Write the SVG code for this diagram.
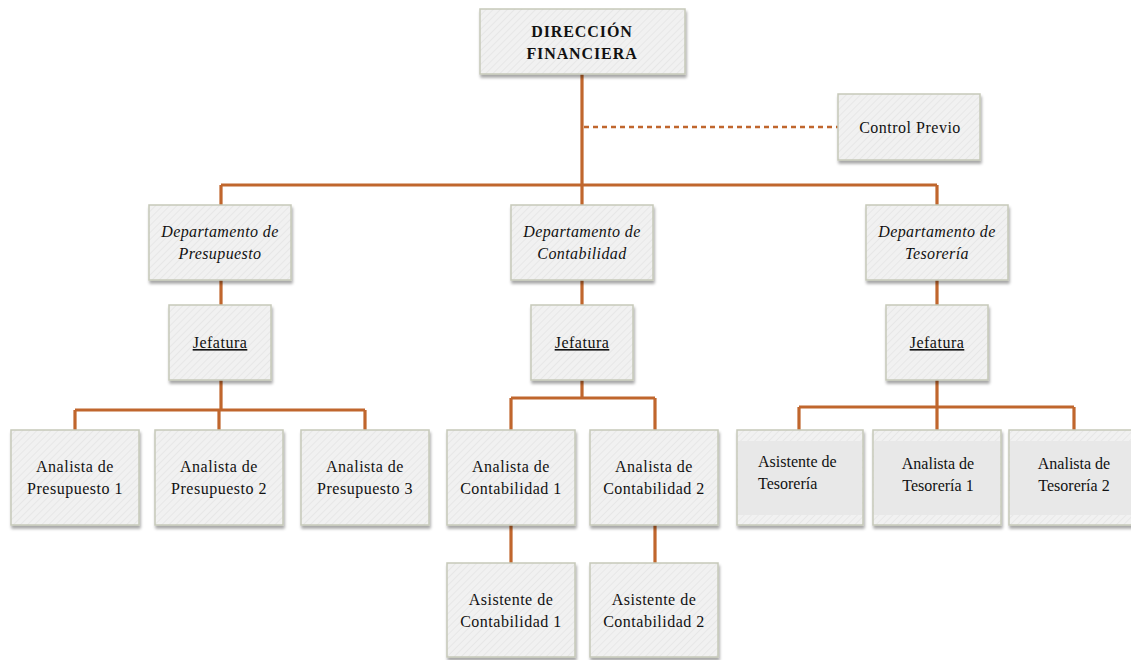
<svg xmlns="http://www.w3.org/2000/svg" width="1131" height="660" viewBox="0 0 1131 660">
  <defs>
    <filter id="shadow" x="-10%" y="-10%" width="125%" height="130%">
      <feGaussianBlur in="SourceAlpha" stdDeviation="1.6"/>
      <feOffset dx="1" dy="2.5" result="b"/>
      <feComponentTransfer><feFuncA type="linear" slope="0.35"/></feComponentTransfer>
      <feMerge><feMergeNode/><feMergeNode in="SourceGraphic"/></feMerge>
    </filter>
    <pattern id="hatch" width="5" height="5" patternUnits="userSpaceOnUse" patternTransform="rotate(45)">
      <rect width="5" height="5" fill="#f1f1f1"/>
      <line x1="0" y1="0" x2="0" y2="5" stroke="#e4e4e4" stroke-width="1.5"/>
    </pattern>
  </defs>
  <style>
    .box { fill: url(#hatch); stroke: #c6c9b9; stroke-width: 1.5; filter: url(#shadow); }
    .inner { fill: #e8e8e8; }
    .link { fill: none; stroke: #c0662d; stroke-width: 3.2; }
    .dash { fill: none; stroke: #c0662d; stroke-width: 2.5; stroke-dasharray: 5 4; }
    text { font-family: "Liberation Serif", "Times New Roman", serif; font-size: 16px; fill: #111; text-anchor: middle; letter-spacing: 0.5px; }
    .title { font-weight: bold; letter-spacing: 0.9px; }
    .dept { font-style: italic; letter-spacing: 0.4px; }
    .jef { text-decoration: underline; }
    .left { text-anchor: start; letter-spacing: 0; }
  </style>
  <rect width="1131" height="660" fill="#ffffff"/>

  <!-- connectors -->
  <g id="connectors">
    <path class="link" d="M582 74 V185 M221 185 H937 M221 185 V205 M582 185 V205 M937 185 V205"/>
    <path class="dash" d="M584 127 H838"/>
    <path class="link" d="M221 280 V305 M582 280 V305 M937 280 V305"/>
    <path class="link" d="M221 380 V410 M75 410 H365 M75 410 V430 M219 410 V430 M365 410 V430"/>
    <path class="link" d="M582 380 V398 M511 398 H655 M511 398 V430 M655 398 V430"/>
    <path class="link" d="M511 525 V563 M655 525 V563"/>
    <path class="link" d="M937 380 V407 M799 407 H1074 M799 407 V430 M937 407 V430 M1074 407 V430"/>
  </g>

  <g id="direccion">
    <rect class="box" x="480" y="9" width="205" height="65"/>
    <text class="title" x="582" y="37">DIRECCIÓN</text>
    <text class="title" x="582" y="59">FINANCIERA</text>
  </g>

  <g id="control-previo">
    <rect class="box" x="838" y="94" width="142" height="66"/>
    <text x="910" y="133">Control Previo</text>
  </g>

  <g id="dep-presupuesto">
    <rect class="box" x="149" y="205" width="142" height="75"/>
    <text class="dept" x="220" y="237">Departamento de</text>
    <text class="dept" x="220" y="259">Presupuesto</text>
  </g>
  <g id="dep-contabilidad">
    <rect class="box" x="511" y="205" width="142" height="75"/>
    <text class="dept" x="582" y="237">Departamento de</text>
    <text class="dept" x="582" y="259">Contabilidad</text>
  </g>
  <g id="dep-tesoreria">
    <rect class="box" x="866" y="205" width="142" height="75"/>
    <text class="dept" x="937" y="237">Departamento de</text>
    <text class="dept" x="937" y="259">Tesorería</text>
  </g>

  <g id="jef-presupuesto">
    <rect class="box" x="169" y="305" width="102" height="75"/>
    <text class="jef" x="220" y="348">Jefatura</text>
  </g>
  <g id="jef-contabilidad">
    <rect class="box" x="531" y="305" width="102" height="75"/>
    <text class="jef" x="582" y="348">Jefatura</text>
  </g>
  <g id="jef-tesoreria">
    <rect class="box" x="886" y="305" width="102" height="75"/>
    <text class="jef" x="937" y="348">Jefatura</text>
  </g>

  <g id="analista-presupuesto-1">
    <rect class="box" x="11" y="430" width="128" height="95"/>
    <text x="75" y="472">Analista de</text>
    <text x="75" y="494">Presupuesto 1</text>
  </g>
  <g id="analista-presupuesto-2">
    <rect class="box" x="155" y="430" width="128" height="95"/>
    <text x="219" y="472">Analista de</text>
    <text x="219" y="494">Presupuesto 2</text>
  </g>
  <g id="analista-presupuesto-3">
    <rect class="box" x="301" y="430" width="128" height="95"/>
    <text x="365" y="472">Analista de</text>
    <text x="365" y="494">Presupuesto 3</text>
  </g>

  <g id="analista-contabilidad-1">
    <rect class="box" x="447" y="430" width="128" height="95"/>
    <text x="511" y="472">Analista de</text>
    <text x="511" y="494">Contabilidad 1</text>
  </g>
  <g id="analista-contabilidad-2">
    <rect class="box" x="590" y="430" width="128" height="95"/>
    <text x="654" y="472">Analista de</text>
    <text x="654" y="494">Contabilidad 2</text>
  </g>
  <g id="asistente-contabilidad-1">
    <rect class="box" x="447" y="563" width="128" height="94"/>
    <text x="511" y="605">Asistente de</text>
    <text x="511" y="627">Contabilidad 1</text>
  </g>
  <g id="asistente-contabilidad-2">
    <rect class="box" x="590" y="563" width="128" height="94"/>
    <text x="654" y="605">Asistente de</text>
    <text x="654" y="627">Contabilidad 2</text>
  </g>

  <g id="asistente-tesoreria">
    <rect class="box" x="737" y="430" width="126" height="95"/>
    <rect class="inner" x="738" y="441" width="124" height="74"/>
    <text class="left" x="758" y="467">Asistente de</text>
    <text class="left" x="758" y="489">Tesorería</text>
  </g>
  <g id="analista-tesoreria-1">
    <rect class="box" x="873" y="430" width="128" height="95"/>
    <rect class="inner" x="874" y="441" width="126" height="74"/>
    <text x="938" y="469" style="letter-spacing:0">Analista de</text>
    <text x="938" y="491" style="letter-spacing:0">Tesorería 1</text>
  </g>
  <g id="analista-tesoreria-2">
    <rect class="box" x="1009" y="430" width="126" height="95"/>
    <rect class="inner" x="1010" y="441" width="124" height="74"/>
    <text x="1074" y="469" style="letter-spacing:0">Analista de</text>
    <text x="1074" y="491" style="letter-spacing:0">Tesorería 2</text>
  </g>
</svg>
